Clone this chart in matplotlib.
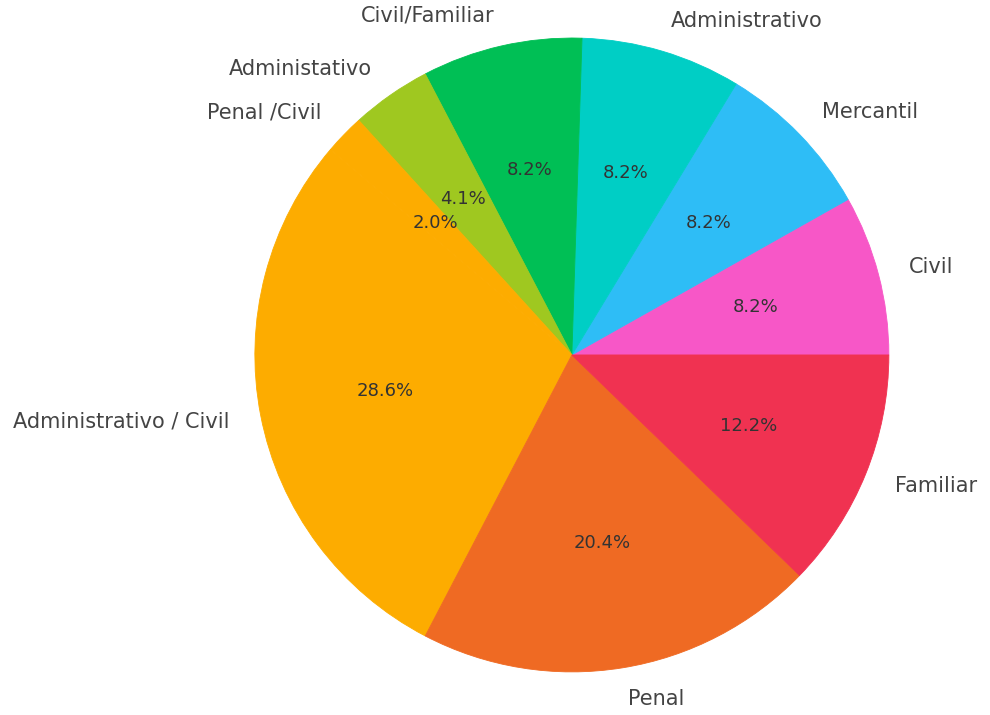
import matplotlib
matplotlib.use("Agg")
import matplotlib.pyplot as plt

# Casos por materia (número de expedientes)
categories = [
    "Civil", "Mercantil", "Administrativo", "Civil/Familiar",
    "Administativo", "Penal /Civil", "Administrativo / Civil",
    "Penal", "Familiar",
]
counts = [4, 4, 4, 4, 2, 1, 14, 10, 6]
colors = [
    "#f757c7", "#2ebdf6", "#00cec5", "#00bf55",
    "#9fc820", "#fdac00", "#fdac00", "#ef6a23", "#f03251",
]

fig = plt.figure(figsize=(9.9, 7.15), dpi=100)
ax = fig.add_axes([0, 0, 1, 1])

wedges, texts, autotexts = ax.pie(
    counts,
    labels=categories,
    colors=colors,
    autopct="%1.1f%%",
    startangle=0,
    counterclock=True,
    labeldistance=1.1,
    pctdistance=0.6,
    textprops={"fontsize": 15, "color": "#444444"},
)
# Thin edge in each wedge's own colour hides antialiasing seams
for w in wedges:
    w.set_edgecolor(w.get_facecolor())
    w.set_linewidth(0.6)
for t in autotexts:
    t.set_fontsize(13)
    t.set_color("#333333")

ax.set_aspect("auto")
ax.set_xlim(-1.804, 1.319)
ax.set_ylim(-1.136, 1.120)
ax.axis("off")

fig.savefig("out.png", dpi=100, facecolor="white")
